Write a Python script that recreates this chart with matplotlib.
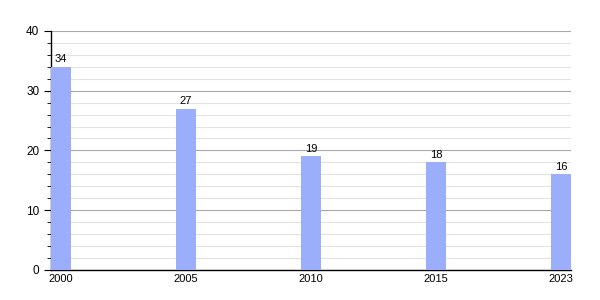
import matplotlib
matplotlib.use("Agg")
import matplotlib.pyplot as plt
from matplotlib.ticker import MultipleLocator

plt.rcParams["font.family"] = ["Liberation Sans", "DejaVu Sans"]

years = ["2000", "2005", "2010", "2015", "2023"]
values = [34, 27, 19, 18, 16]

fig = plt.figure(figsize=(6, 3), dpi=100)
ax = fig.add_axes([0.085, 0.1, 0.867, 0.797])

width = 0.16
x = list(range(len(years)))
ax.bar(x, values, width=width, align="edge", color="#9aaefc", zorder=3)
for xi, v in zip(x, values):
    ax.text(xi + width / 2, v + 0.4, str(v), ha="center", va="bottom", fontsize=8)

ax.set_xlim(0, len(years) - 1 + width)
ax.set_xticks([xi + width / 2 for xi in x])
ax.set_xticklabels(years, fontsize=8)
ax.tick_params(axis="x", length=0, pad=3)

ax.set_ylim(0, 40)
ax.yaxis.set_major_locator(MultipleLocator(10))
ax.yaxis.set_minor_locator(MultipleLocator(2))
ax.tick_params(axis="y", which="major", length=5, labelsize=8.5, direction="out")
ax.tick_params(axis="y", which="minor", length=3, direction="out")
ax.grid(axis="y", which="major", color="#a8a8a8", linewidth=0.8, zorder=0)
ax.grid(axis="y", which="minor", color="#e2e2e2", linewidth=0.8, zorder=0)

ax.spines["top"].set_visible(False)
ax.spines["right"].set_visible(False)
ax.spines["left"].set_linewidth(1)
ax.spines["bottom"].set_linewidth(1)

fig.savefig("out.png", dpi=100)
